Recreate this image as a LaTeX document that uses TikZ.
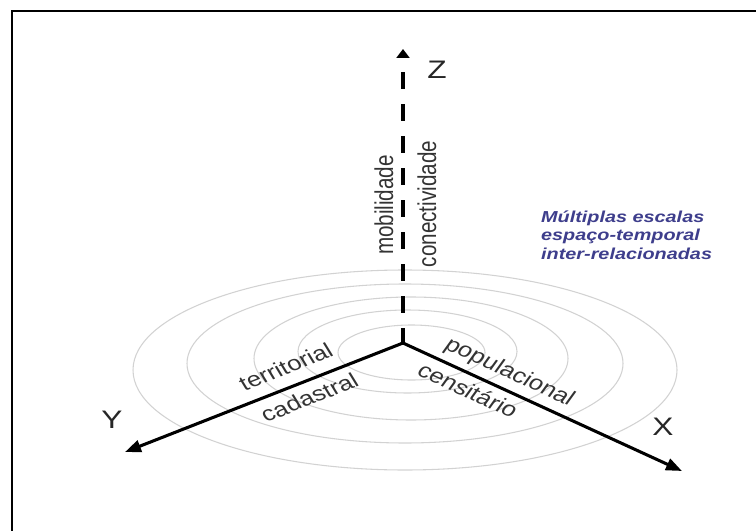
\documentclass[tikz,border=0pt]{standalone}
\usepackage{fontspec}
\setmainfont{Liberation Sans}
\usetikzlibrary{arrows.meta}

\definecolor{ringgray}{RGB}{210,210,210}
\definecolor{noteblue}{RGB}{62,62,140}

\tikzset{every picture/.style={line width=0.75pt}}
\tikzset{
  scalering/.style={draw=ringgray, line width=0.8pt},
  axisline/.style={line width=2.3pt, -{Triangle[length=12pt,width=9pt]}},
  zaxisline/.style={line width=3.4pt, dash pattern=on 12.75pt off 11.25pt, dash phase=12.75pt},
  axisletter/.style={font=\fontsize{19}{22}\selectfont, xscale=1.25, text=black!85},
  dimtext/.style={font=\fontsize{15.5}{18}\selectfont, xscale=1.25, text=black!80, inner sep=1pt},
  notetext/.style={font=\fontsize{11.9}{13.9}\selectfont\bfseries\itshape, xscale=1.25, text=noteblue, align=left}
}

\begin{document}
\begin{tikzpicture}[x=0.75pt,y=0.75pt,yscale=-1,xscale=1]
	\useasboundingbox (0,0) rectangle (756,531);

	%Straight Lines: frame
	\draw [line width=1.7pt] (12,531) -- (12,11) -- (756,11) ;

	%Shape: Ellipse
	\draw [scalering] (405,370) ellipse (272 and 100) ;
	%Shape: Ellipse
	\draw [scalering] (405,363.5) ellipse (218 and 79.5) ;
	%Shape: Ellipse
	\draw [scalering] (411,358.5) ellipse (157 and 61.5) ;
	%Shape: Ellipse
	\draw [scalering] (407.5,351.5) ellipse (109.5 and 41.5) ;
	%Shape: Ellipse
	\draw [scalering] (411.5,352.5) ellipse (73.5 and 27.5) ;

	\coordinate (origin) at (403,343) ;
	\coordinate (ztip) at (403,49) ;
	\coordinate (ytip) at (125,452) ;
	\coordinate (xtip) at (682,471) ;

	%Straight Lines
	\draw [zaxisline, {Triangle[length=6.75pt,width=9.75pt]}-] (ztip) -- (origin) ;
	%Straight Lines
	\draw [axisline] (origin) -- (ytip) ;
	%Straight Lines
	\draw [axisline] (origin) -- (xtip) ;

	% Text Node
	\node [axisletter] (zlabel) at (437,70) {Z};
	% Text Node
	\node [axisletter] (ylabel) at (112,420) {Y};
	% Text Node
	\node [axisletter] (xlabel) at (663,427) {X};
	% Text Node
	\node [dimtext, rotate=90] (mobil) at (384,205) {mobilidade};
	% Text Node
	\node [dimtext, rotate=90] (conect) at (427,204) {conectividade};
	% Text Node
	\node [dimtext, rotate=26.1] (territ) at (285.7,366.7) {territorial};
	% Text Node
	\node [dimtext, rotate=26.1] (cadast) at (309.2,397.5) {cadastral};
	% Text Node
	\node [dimtext, rotate=-30] (popul) at (509.2,372.5) {populacional};
	% Text Node
	\node [dimtext, rotate=-30] (censit) at (468.3,390) {censitário};
	% Text Node
	\node [notetext, anchor=west] (scales) at (535,235) {Múltiplas escalas\\espaço-temporal\\inter-relacionadas};

\end{tikzpicture}
\end{document}
